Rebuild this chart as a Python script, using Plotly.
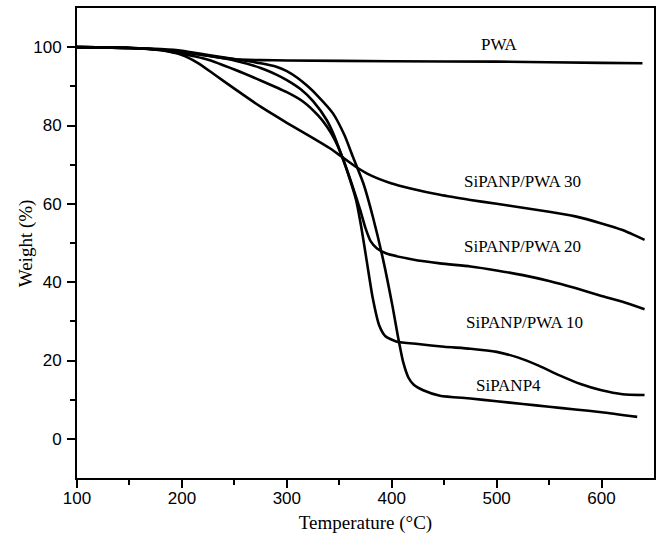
import plotly.graph_objects as go

# Temperature (°C) and weight (%)
pwa_t = [100, 150, 180, 200, 225, 250, 275, 300, 400, 500, 600, 639]
pwa_w = [100, 99.8, 99.4, 98.8, 97.8, 96.9, 96.7, 96.6, 96.4, 96.3, 96.0, 95.9]

p30_t = [100, 150, 180, 200, 215, 230, 250, 275, 300, 325, 341, 351, 365, 379, 400, 417, 446, 475, 500, 525, 550, 575, 600, 620, 641]
p30_w = [100, 99.8, 99.2, 98.0, 96.0, 93.2, 89.4, 84.8, 80.7, 76.8, 74.2, 72.3, 69.6, 67.4, 65.2, 64.0, 62.3, 61.0, 60.0, 59.0, 58.0, 56.8, 55.0, 53.3, 50.8]

p20_t = [100, 150, 180, 200, 225, 250, 275, 300, 316, 330, 338, 346, 354, 362, 370, 375, 380, 386, 395, 420, 446, 475, 500, 525, 550, 575, 600, 620, 641]
p20_w = [100, 99.8, 99.3, 98.3, 96.8, 94.3, 91.5, 88.5, 86.0, 82.5, 79.8, 76.2, 71.2, 65.0, 58.4, 53.8, 50.4, 48.6, 47.3, 45.8, 44.8, 44.0, 43.0, 41.8, 40.3, 38.5, 36.5, 35.0, 33.1]

p10_t = [100, 150, 180, 200, 225, 250, 275, 290, 300, 313, 325, 338, 345, 352, 358, 366, 371, 376, 382, 388, 394, 405, 425, 450, 475, 500, 520, 540, 560, 580, 600, 620, 641]
p10_w = [100, 99.8, 99.4, 98.8, 97.8, 96.6, 94.7, 93.0, 91.6, 89.3, 86.2, 81.4, 77.5, 72.5, 68.0, 61.0, 54.0, 45.7, 35.8, 29.0, 26.2, 24.8, 24.2, 23.5, 23.0, 22.2, 20.8, 18.7, 16.2, 14.0, 12.4, 11.4, 11.2]

p4_t = [100, 150, 180, 200, 225, 250, 275, 290, 300, 310, 320, 330, 344, 355, 363, 373, 382, 392, 401, 406, 411, 416, 421, 430, 446, 475, 500, 525, 550, 575, 600, 634]
p4_w = [100, 99.8, 99.5, 99.1, 98.0, 97.0, 95.9, 95.0, 93.9, 92.2, 90.0, 87.4, 83.1, 77.5, 72.0, 65.2, 56.7, 45.5, 33.5, 26.0, 19.5, 15.6, 13.8, 12.4, 11.0, 10.3, 9.6, 8.9, 8.2, 7.5, 6.8, 5.6]

series = [
    ("PWA", pwa_t, pwa_w),
    ("SiPANP/PWA 30", p30_t, p30_w),
    ("SiPANP/PWA 20", p20_t, p20_w),
    ("SiPANP/PWA 10", p10_t, p10_w),
    ("SiPANP4", p4_t, p4_w),
]

label_text = ["PWA", "SiPANP/PWA 30", "SiPANP/PWA 20", "SiPANP/PWA 10", "SiPANP4"]
label_x = [503, 525, 525, 527, 511]
label_y = [100.6, 65.8, 49.2, 29.8, 13.5]

x_ticks = [100, 200, 300, 400, 500, 600]
y_ticks = [0, 20, 40, 60, 80, 100]

serif = "Liberation Serif, Times New Roman, serif"
sans = "Liberation Sans, Arial, sans-serif"

fig = go.Figure()
for name, t, w in series:
    fig.add_trace(go.Scatter(
        x=t, y=w, mode="lines", name=name,
        line=dict(color="black", width=2.6, shape="spline", smoothing=0.6),
        showlegend=False, hoverinfo="skip"))

for txt, lx, ly in zip(label_text, label_x, label_y):
    fig.add_annotation(x=lx, y=ly, text=txt, showarrow=False,
                       font=dict(family=serif, size=17, color="black"))

# y-axis title
fig.add_annotation(xref="paper", yref="paper", x=-0.088, y=0.5, text="Weight (%)",
                   textangle=-90, showarrow=False, xanchor="center", yanchor="middle",
                   font=dict(family=serif, size=19, color="black"))

axis_common = dict(
    showgrid=False, zeroline=False, showline=True, linecolor="black", linewidth=2,
    mirror=True, ticks="outside", ticklen=8, tickwidth=2, tickcolor="black",
    tickfont=dict(family=sans, size=17, color="black"),
)

fig.update_xaxes(
    range=[100, 650], tickmode="array", tickvals=x_ticks, ticktext=[str(v) for v in x_ticks],
    minor=dict(tickmode="array", tickvals=[150, 250, 350, 450, 550], ticks="outside",
               ticklen=5, tickwidth=2, tickcolor="black"),
    title=dict(text="Temperature (°C)", standoff=8,
               font=dict(family=serif, size=19, color="black")),
    ticklabelstandoff=-4,
    **axis_common)

fig.update_yaxes(
    range=[-10, 110], tickmode="array", tickvals=y_ticks, ticktext=[str(v) for v in y_ticks],
    minor=dict(tickmode="array", tickvals=[10, 30, 50, 70, 90], ticks="outside",
               ticklen=5, tickwidth=2, tickcolor="black"),
    ticklabelstandoff=2,
    **axis_common)

fig.update_layout(
    width=659, height=545,
    margin=dict(l=77, r=5, t=8, b=67, autoexpand=False),
    paper_bgcolor="white", plot_bgcolor="white",
)

fig.write_html("out.html")
